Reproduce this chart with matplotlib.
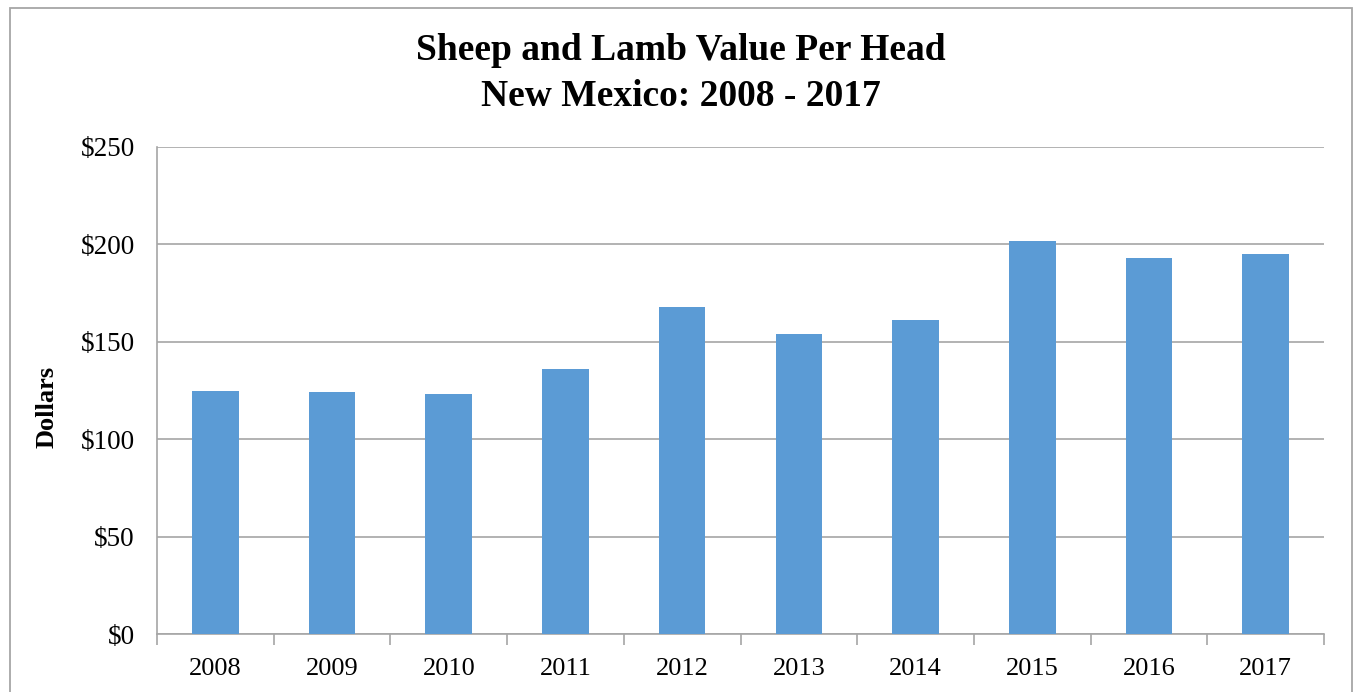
import matplotlib.pyplot as plt
import numpy as np
from matplotlib.patches import Rectangle
from matplotlib.ticker import FuncFormatter

# values
years = ['2008', '2009', '2010', '2011', '2012', '2013', '2014', '2015', '2016', '2017']
value_per_head = [125, 124, 123, 136, 168, 154, 161, 202, 193, 195]
y_ticks = [0, 50, 100, 150, 200, 250]

plt.rcParams['font.family'] = ['Liberation Serif', 'DejaVu Serif']

W, H = 1354, 692
fig = plt.figure(figsize=(W / 100, H / 100), dpi=100)
ax = fig.add_axes([157 / W, 1 - 634 / H, (1324 - 157) / W, (634 - 147) / H])

# outer chart border
fig.patches.append(Rectangle((10 / W, -0.01), (1352 - 10) / W, 1.01 - 8 / H,
                             transform=fig.transFigure, fill=False,
                             edgecolor='#a6a6a6', linewidth=1.3))

x = np.arange(len(years))
ax.bar(x, value_per_head, width=0.4, color='#5b9bd5', zorder=3)

ax.set_xlim(-0.5, len(years) - 0.5)
ax.set_ylim(0, 250)
ax.set_yticks(y_ticks)
ax.yaxis.set_major_formatter(FuncFormatter(lambda v, p: f'${v:.0f}'))
ax.set_xticks(x)
ax.set_xticklabels(years)
ax.set_xticks(np.arange(-0.5, len(years)), minor=True)

ax.tick_params(axis='x', which='major', length=0, pad=17, labelsize=19)
ax.tick_params(axis='x', which='minor', length=8, color='#a6a6a6', width=1.2)
ax.tick_params(axis='y', length=0, pad=16, labelsize=19.5)

ax.grid(axis='y', color='#a6a6a6', linewidth=1.2, zorder=0)
for s in ['top', 'right']:
    ax.spines[s].set_visible(False)
for s in ['left', 'bottom']:
    ax.spines[s].set_color('#a6a6a6')
    ax.spines[s].set_linewidth(1.2)

ax.set_ylabel('Dollars', fontsize=19, fontweight='bold', labelpad=16)
ax.yaxis.label.set_y(0.467)

fig.text(681 / W, 1 - 33 / H, 'Sheep and Lamb Value Per Head\nNew Mexico: 2008 - 2017',
         ha='center', va='top', fontsize=27, fontweight='bold', linespacing=1.42)

fig.savefig('out.png', dpi=100)
